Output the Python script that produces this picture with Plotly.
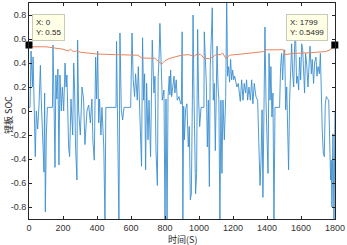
import plotly.graph_objects as go

# Blue signal (time, value)
sig_t = [0, 6, 12, 20, 24, 31, 37, 43, 51, 59, 67, 72, 78, 88, 92, 96, 102, 108, 138,
         141, 147, 153, 158, 164, 170, 176, 182, 190, 196, 204, 212, 218, 223, 233, 239, 247,
         257, 263, 268, 274, 282, 286, 292, 302, 312, 321, 329, 341, 351, 361, 370, 376, 384,
         392, 398, 404, 410, 415, 423, 429, 440, 447, 452, 512,
         515, 523, 529, 535, 543, 551, 559, 598, 606, 613, 621, 627, 637, 643, 649, 657, 662,
         668, 674, 680, 686, 692, 700, 706, 715, 725, 735, 741, 747, 755, 760, 766, 770, 778,
         784, 794, 800, 806, 812, 818, 825, 829, 833, 839, 847, 853, 858, 866, 872, 882, 892,
         896, 901, 905, 910, 914, 921, 929, 937, 943, 949, 955, 961, 965, 970, 976, 980, 986,
         992, 998, 1004, 1012, 1029, 1031, 1037, 1043, 1049, 1055, 1061, 1066, 1072, 1078,
         1084, 1090, 1096, 1102, 1106, 1112, 1117, 1123, 1129, 1135, 1141, 1149, 1157, 1163,
         1168, 1174, 1180, 1186, 1192, 1198, 1204, 1210, 1215, 1223, 1231, 1237, 1243, 1251,
         1259, 1266, 1274, 1280, 1286, 1294, 1302, 1310, 1317, 1325, 1335, 1345, 1353, 1359,
         1365, 1371, 1376, 1382, 1388, 1394, 1400, 1406, 1412, 1418, 1423, 1429, 1435, 1441,
         1447, 1474, 1480, 1486, 1492, 1498, 1504, 1510, 1516, 1521, 1527, 1533, 1539, 1545,
         1551, 1557, 1563, 1568, 1574, 1580, 1586, 1592, 1598, 1604, 1610, 1616, 1621, 1627,
         1633, 1641, 1647, 1653, 1661, 1666, 1674, 1680, 1688, 1694, 1700, 1708, 1714, 1719,
         1725, 1731, 1737, 1743, 1749, 1755, 1763, 1768, 1774, 1778, 1782, 1788, 1794, 1800]
sig_v = [0.03, 0.03, 0.50, 0.20, 0.45, -0.10, -0.38, 0.0, -0.15, 0.05, 0.38, 0.10, -0.20, -0.51, 0.15, -0.84, -0.20, 0.03, 0.03,
         0.55, 0.10, -0.47, 0.30, 0.10, 0.35, -0.45, 0.30, 0.0, 0.20, 0.0, 0.40, 0.20, 0.30, -0.30, -0.38, 0.10,
         -0.20, 0.40, 0.20, -0.30, -0.575, 0.59, 0.0, -0.20, 0.20, 0.10, -0.28, 0.0, 0.05, -0.10, 0.10, -0.25, -0.41,
         0.45, 0.10, 0.50, -0.10, 0.10, -0.20, 0.03, -0.30, -0.95, 0.03, 0.03,
         0.58, -0.30, -0.95, 0.65, 0.01, -0.075, 0.03, 0.03, 0.65, 0.26, 0.12, 0.31, 0.09, 0.37, 0.15, -0.30, -0.46,
         0.61, 0.09, 0.31, -0.49, 0.23, -0.24, 0.09, -0.38, 0.59, 0.15, 0.29, -0.33, -0.62, 0.29, 0.48, 0.73, 0.37,
         0.09, 0.175, -0.95, 0.10, -0.95, 0.12, 0.29, 0.135, 0.34, 0.12, 0.20, 0.29, 0.15, 0.26, 0.09, 0.12, 0.06,
         0.06, 0.66, -0.95, 0.04, -0.24, 0.01, 0.06, -0.30, -0.13, -0.74, -0.69, 0.09, 0.80, 0.18, -0.19, -0.69, -0.52,
         0.68, 0.09, -0.13, 0.03, 0.03, 0.66, 0.43, 0.23, -0.30, 0.09, -0.63, 0.37, 0.59, 0.86,
         0.09, 0.23, -0.33, 0.04, 0.54, 0.20, 0.09, -0.95, 0.09, -0.52, 0.09, -0.24, 0.12, 0.95,
         0.29, 0.37, 0.24, 0.43, 0.26, 0.34, 0.26, 0.29, 0.26, 0.20, 0.23, 0.12, 0.08, 0.26,
         0.09, 0.23, 0.15, 0.26, 0.09, 0.20, 0.09, 0.26, 0.06, 0.23, 0.12, 0.09, -0.24, -0.62,
         -0.41, 0.01, -0.72, 0.09, 0.70, 0.09, -0.30, -0.52, 0.48, 0.09, 0.37, -0.05, 0.15, -0.95,
         0.03, 0.03, 0.37, 0.48, 0.26, 0.48, 0.51, 0.01, 0.20, -0.24, -0.49, 0.09, 0.37, 0.56,
         0.31, 0.20, 0.56, 0.65, 0.23, 0.29, 0.175, 0.45, 0.26, 0.56, 0.51, 0.31, 0.15, 0.48,
         0.40, 0.20, 0.37, 0.54, 0.31, 0.43, 0.23, 0.40, 0.45, 0.29, 0.37, 0.31, 0.48, 0.15,
         -0.16, -0.35, -0.38, 0.06, 0.12, 0.105, 0.09, -0.19, -0.575, -0.41, -0.80, -0.19, -0.95, 0.0]

# SOC curve (time, value)
soc_t = [0, 20, 100, 150, 200, 230, 245, 260, 280, 300, 330, 350, 400, 500, 600, 640, 660,
         690, 740, 760, 780, 800, 830, 870, 900, 940, 970, 990, 1010, 1030, 1060, 1080, 1100,
         1129, 1139, 1157, 1180, 1250, 1330, 1380, 1390, 1440, 1498, 1504, 1560, 1650, 1740,
         1765, 1785, 1799]
soc_v = [0.55, 0.535, 0.535, 0.525, 0.515, 0.50, 0.515, 0.495, 0.50, 0.49, 0.485, 0.48, 0.475, 0.47, 0.47, 0.465, 0.445,
         0.44, 0.44, 0.415, 0.39, 0.42, 0.44, 0.455, 0.465, 0.47, 0.455, 0.475, 0.47, 0.44, 0.435, 0.45, 0.47,
         0.47, 0.485, 0.44, 0.465, 0.475, 0.485, 0.495, 0.51, 0.51, 0.51, 0.47, 0.48, 0.485, 0.495,
         0.505, 0.525, 0.5499]

x_ticks = [0, 200, 400, 600, 800, 1000, 1200, 1400, 1600, 1800]
y_ticks = [-0.8, -0.6, -0.4, -0.2, 0, 0.2, 0.4, 0.6, 0.8]
y_tick_text = ["-0.8", "-0.6", "-0.4", "-0.2", "0", "0.2", "0.4", "0.6", "0.8"]

x_title = "时间(S)"
y_title = "锂板 SOC"

fig = go.Figure()
fig.add_trace(go.Scatter(x=sig_t, y=sig_v, mode="lines",
                         line=dict(color="#3b8fd0", width=0.9), showlegend=False))
fig.add_trace(go.Scatter(x=soc_t, y=soc_v, mode="lines",
                         line=dict(color="#e8845c", width=1), showlegend=False))
fig.add_trace(go.Scatter(x=[soc_t[0], soc_t[-1]], y=[soc_v[0], soc_v[-1]], mode="markers",
                         marker=dict(symbol="square", size=7, color="black"),
                         cliponaxis=False, showlegend=False))

tip_font = dict(family="Liberation Sans, Arial, sans-serif", size=8, color="#262626")
fig.add_annotation(x=soc_t[0], y=soc_v[0], xref="x", yref="y",
                   text="X: %g<br>Y: %g" % (soc_t[0], soc_v[0]), showarrow=False,
                   xanchor="left", yanchor="bottom", xshift=3, yshift=4, align="left",
                   bgcolor="#ffffe6", bordercolor="#c9c9b8", borderwidth=1, borderpad=3,
                   font=tip_font)
fig.add_annotation(x=soc_t[-1], y=soc_v[-1], xref="x", yref="y",
                   text="X: %g<br>Y: %g" % (soc_t[-1], soc_v[-1]), showarrow=False,
                   xanchor="right", yanchor="bottom", xshift=-7, yshift=4, align="left",
                   bgcolor="#ffffe6", bordercolor="#c9c9b8", borderwidth=1, borderpad=3,
                   font=tip_font)

title_font = dict(family="Noto Sans CJK SC, sans-serif", size=9, color="#262626")
fig.add_annotation(x=0.5, y=0, xref="paper", yref="paper", text=x_title, showarrow=False,
                   xanchor="center", yanchor="top", yshift=-12, font=title_font)
fig.add_annotation(x=0, y=0.5, xref="paper", yref="paper", text=y_title, showarrow=False,
                   textangle=-90, xanchor="center", yanchor="middle", xshift=-21, yshift=-4,
                   font=title_font)

axis_common = dict(showline=True, linecolor="#262626", linewidth=1, mirror="ticks",
                   ticks="inside", ticklen=3, tickcolor="#262626", showgrid=False,
                   zeroline=False, automargin=False,
                   tickfont=dict(family="Liberation Sans, Arial, sans-serif", size=9, color="#333333"))

fig.update_layout(
    width=347, height=245,
    margin=dict(l=29, r=12, t=3, b=26),
    paper_bgcolor="white", plot_bgcolor="white",
    xaxis=dict(range=[0, 1800], tickvals=x_ticks, **axis_common),
    yaxis=dict(range=[-0.9, 0.9], tickvals=y_ticks, ticktext=y_tick_text, **axis_common),
)

fig.write_html("out.html", config={"displayModeBar": False},
               post_script="document.body.style.margin='0';document.body.style.overflow='hidden';")
